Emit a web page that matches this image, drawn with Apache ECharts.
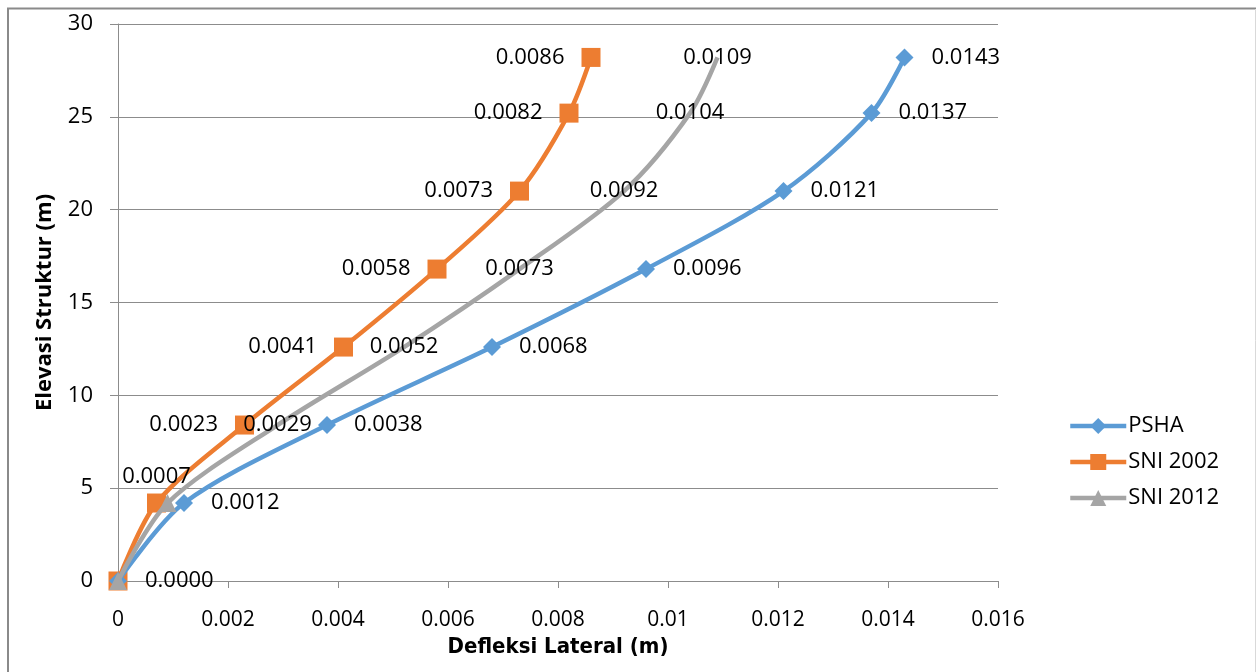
<!DOCTYPE html>
<html>
<head>
<meta charset="utf-8">
<script src="https://cdn.jsdelivr.net/npm/echarts@6/dist/echarts.min.js"></script>
<style>html,body{margin:0;padding:0;background:#fff}#c{width:1256px;height:672px}</style>
</head>
<body>
<div id="c"></div>
<script>
var elevations = [0, 4.2, 8.4, 12.6, 16.8, 21, 25.2, 28.2];
var psha = [0, 0.0012, 0.0038, 0.0068, 0.0096, 0.0121, 0.0137, 0.0143];
var sni2002 = [0, 0.0007, 0.0023, 0.0041, 0.0058, 0.0073, 0.0082, 0.0086];
var sni2012 = [0, 0.0009, 0.0029, 0.0052, 0.0073, 0.0092, 0.0104, 0.0109];
var xTicks = [0, 0.002, 0.004, 0.006, 0.008, 0.01, 0.012, 0.014, 0.016];
var yTicks = [0, 5, 10, 15, 20, 25, 30];

var FONT = '"Open Sans", sans-serif';
var NARROW = '"Liberation Sans Narrow", "DejaVu Sans Condensed", "Open Sans", sans-serif';

function pairs(xs) {
  return xs.map(function (v, i) { return [v, elevations[i]]; });
}
var lblStyle = { fontFamily: FONT, fontSize: 22, color: '#000' };

var pshaData = pairs(psha);
var sni02Data = pairs(sni2002).map(function (p, i) {
  if (i === 0) return { value: p, label: { show: false } };
  if (i === 1) return { value: p, label: { position: 'top', distance: 6 } };
  return { value: p };
});
var sni12Data = pairs(sni2012).map(function (p, i) {
  if (i < 2) return { value: p, label: { show: false } };
  return { value: p, itemStyle: { color: 'rgba(0,0,0,0)' } };
});

var chart = echarts.init(document.getElementById('c'), null, { renderer: 'canvas' });
chart.setOption({
  animation: false,
  backgroundColor: '#fff',
  grid: { left: 118, right: 258, top: 24, bottom: 91 },
  graphic: [
    { type: 'line', shape: { x1: 7, y1: 8.5, x2: 1256, y2: 8.5 }, style: { stroke: '#8a8a8a', lineWidth: 2 }, silent: true },
    { type: 'line', shape: { x1: 8, y1: 8, x2: 8, y2: 672 }, style: { stroke: '#8a8a8a', lineWidth: 2 }, silent: true },
    { type: 'line', shape: { x1: 1255.5, y1: 9, x2: 1255.5, y2: 672 }, style: { stroke: '#d9d9d9', lineWidth: 1 }, silent: true }
  ],
  legend: {
    orient: 'vertical',
    left: 1063,
    top: 410,
    itemWidth: 56,
    itemHeight: 20,
    itemGap: 14,
    lineStyle: { width: 4.5 },
    textStyle: { fontFamily: FONT, fontSize: 22, color: '#000', padding: [0, 0, 0, -3] },
    data: ['PSHA', 'SNI 2002', 'SNI 2012']
  },
  xAxis: {
    type: 'value',
    min: 0, max: 0.016, interval: 0.002,
    name: 'Defleksi Lateral (m)',
    nameLocation: 'middle',
    nameGap: 54,
    nameTextStyle: { fontFamily: NARROW, fontSize: 22, fontWeight: 'bold', color: '#000' },
    axisLine: { show: true, onZero: false, lineStyle: { color: '#8c8c8c', width: 1 } },
    axisTick: { show: true, inside: false, length: 7, lineStyle: { color: '#8c8c8c' } },
    axisLabel: {
      fontFamily: FONT, fontSize: 21, color: '#000', margin: 29,
      formatter: function (v) { return String(+v.toFixed(3)); }
    },
    splitLine: { show: false }
  },
  yAxis: {
    type: 'value',
    min: 0, max: 30, interval: 5,
    name: 'Elevasi Struktur (m)',
    nameLocation: 'middle',
    nameGap: 62,
    nameTextStyle: { fontFamily: FONT, fontSize: 22, fontWeight: 'bold', color: '#000' },
    axisLine: { show: true, lineStyle: { color: '#8c8c8c', width: 1 } },
    axisTick: { show: true, length: 8, lineStyle: { color: '#8c8c8c' } },
    axisLabel: { fontFamily: FONT, fontSize: 22, color: '#000', margin: 25 },
    splitLine: { show: true, lineStyle: { color: '#8c8c8c', width: 1 } }
  },
  series: [
    {
      name: 'PSHA', type: 'line', smooth: 0.3,
      data: pshaData,
      symbol: 'diamond', symbolSize: 18,
      itemStyle: { color: '#5B9BD5' },
      lineStyle: { color: '#5B9BD5', width: 4.5 },
      label: Object.assign({ show: true, position: 'right', distance: 18,
        formatter: function (p) { return p.value[0].toFixed(4); } }, lblStyle),
      z: 3
    },
    {
      name: 'SNI 2002', type: 'line', smooth: 0.3,
      data: sni02Data,
      symbol: 'rect', symbolSize: 19,
      itemStyle: { color: '#ED7D31' },
      lineStyle: { color: '#ED7D31', width: 4.5 },
      label: Object.assign({ show: true, position: 'left', distance: 17,
        formatter: function (p) { return p.value[0].toFixed(4); } }, lblStyle),
      z: 2
    },
    {
      name: 'SNI 2012', type: 'line', smooth: 0.3,
      data: sni12Data,
      symbol: 'triangle', symbolSize: 18,
      itemStyle: { color: '#A5A5A5' },
      lineStyle: { color: '#A5A5A5', width: 4.5 },
      label: Object.assign({ show: true, position: 'inside',
        formatter: function (p) { return p.value[0].toFixed(4); } }, lblStyle),
      z: 4
    }
  ]
});
</script>
</body>
</html>
